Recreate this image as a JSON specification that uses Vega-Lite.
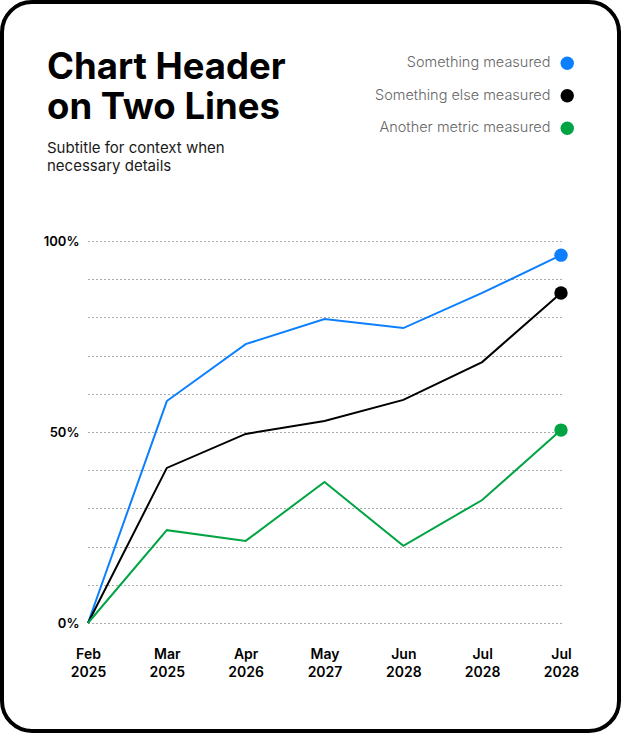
{
  "$schema": "https://vega.github.io/schema/vega-lite/v6.json",
  "width": 621,
  "height": 733,
  "autosize": {"type": "fit", "contains": "padding"},
  "padding": 2,
  "background": "white",
  "title": {
    "text": ["Chart Header", "on Two Lines"],
    "subtitle": ["Subtitle for context when", "necessary details"],
    "anchor": "start",
    "orient": "top",
    "frame": "group",
    "offset": -172,
    "dx": 45,
    "font": "Inter",
    "fontSize": 36.5,
    "fontWeight": 700,
    "lineHeight": 40,
    "color": "#000000",
    "subtitleFont": "Inter",
    "subtitleFontSize": 15,
    "subtitleLineHeight": 18,
    "subtitleColor": "#1a1a1a",
    "subtitlePadding": 15,
    "subtitleFontWeight": 400
  },
  "config": {
    "view": {"stroke": "#000000", "strokeWidth": 4, "cornerRadius": 30, "fill": "white"}
  },
  "data": {
    "values": [
      {"idx": 0, "series": "Something measured", "value": 0},
      {"idx": 1, "series": "Something measured", "value": 58.1},
      {"idx": 2, "series": "Something measured", "value": 73.0},
      {"idx": 3, "series": "Something measured", "value": 79.6},
      {"idx": 4, "series": "Something measured", "value": 77.2},
      {"idx": 5, "series": "Something measured", "value": 86.4},
      {"idx": 6, "series": "Something measured", "value": 96.3},
      {"idx": 0, "series": "Something else measured", "value": 0},
      {"idx": 1, "series": "Something else measured", "value": 40.6},
      {"idx": 2, "series": "Something else measured", "value": 49.5},
      {"idx": 3, "series": "Something else measured", "value": 52.9},
      {"idx": 4, "series": "Something else measured", "value": 58.4},
      {"idx": 5, "series": "Something else measured", "value": 68.3},
      {"idx": 6, "series": "Something else measured", "value": 86.4},
      {"idx": 0, "series": "Another metric measured", "value": 0},
      {"idx": 1, "series": "Another metric measured", "value": 24.3},
      {"idx": 2, "series": "Another metric measured", "value": 21.5},
      {"idx": 3, "series": "Another metric measured", "value": 36.9},
      {"idx": 4, "series": "Another metric measured", "value": 20.2},
      {"idx": 5, "series": "Another metric measured", "value": 32.2},
      {"idx": 6, "series": "Another metric measured", "value": 50.5}
    ]
  },
  "encoding": {
    "x": {
      "field": "idx",
      "type": "quantitative",
      "scale": {"domain": [0, 6], "range": [86, 559], "nice": false, "zero": false},
      "axis": {
        "orient": "bottom",
        "values": [0, 1, 2, 3, 4, 5, 6],
        "labelExpr": "[['Feb','2025'],['Mar','2025'],['Apr','2026'],['May','2027'],['Jun','2028'],['Jul','2028'],['Jul','2028']][datum.value]",
        "domain": false,
        "ticks": false,
        "tickSize": 0,
        "labelPadding": 0,
        "offset": -84,
        "grid": false,
        "labelFont": "Inter",
        "labelFontSize": 14,
        "labelFontWeight": 600,
        "labelLineHeight": 18,
        "labelBaseline": "top",
        "labelColor": "#000000",
        "labelFlush": false,
        "labelOverlap": false,
        "title": null
      }
    },
    "y": {
      "field": "value",
      "type": "quantitative",
      "scale": {"domain": [0, 100], "range": [621, 239], "nice": false},
      "axis": {
        "orient": "left",
        "values": [0, 10, 20, 30, 40, 50, 60, 70, 80, 90, 100],
        "labelExpr": "datum.value % 50 === 0 ? datum.value + '%' : ''",
        "domain": false,
        "ticks": false,
        "tickSize": 0,
        "labelPadding": 0,
        "offset": -77,
        "grid": true,
        "gridDash": [1, 3],
        "gridColor": "#555555",
        "gridWidth": 1,
        "labelFont": "Inter",
        "labelFontSize": 13,
        "labelFontWeight": 600,
        "labelColor": "#000000",
        "labelOverlap": false,
        "title": null
      }
    },
    "color": {
      "field": "series",
      "type": "nominal",
      "scale": {
        "domain": ["Something measured", "Something else measured", "Another metric measured"],
        "range": ["#0b7fff", "#000000", "#00a443"]
      },
      "legend": {
        "orient": "none",
        "legendX": 558,
        "legendY": 54,
        "title": null,
        "labelAlign": "right",
        "labelOffset": -24,
        "labelFont": "Inter",
        "labelFontSize": 14.5,
        "labelFontWeight": 300,
        "labelColor": "#666666",
        "symbolSize": 180,
        "symbolType": "circle",
        "symbolStrokeWidth": 0,
        "rowPadding": 17.5,
        "padding": 0,
        "labelLimit": 300,
        "encode": {
          "symbols": {
            "update": {
              "fill": {"scale": "color", "field": "value"},
              "stroke": {"value": "transparent"},
              "opacity": {"value": 1},
              "fillOpacity": {"value": 1}
            }
          }
        }
      }
    }
  },
  "layer": [
    {
      "mark": {"type": "line", "strokeWidth": 2}
    },
    {
      "transform": [{"filter": "datum.idx == 6"}],
      "mark": {"type": "circle", "size": 180, "opacity": 1}
    }
  ]
}
